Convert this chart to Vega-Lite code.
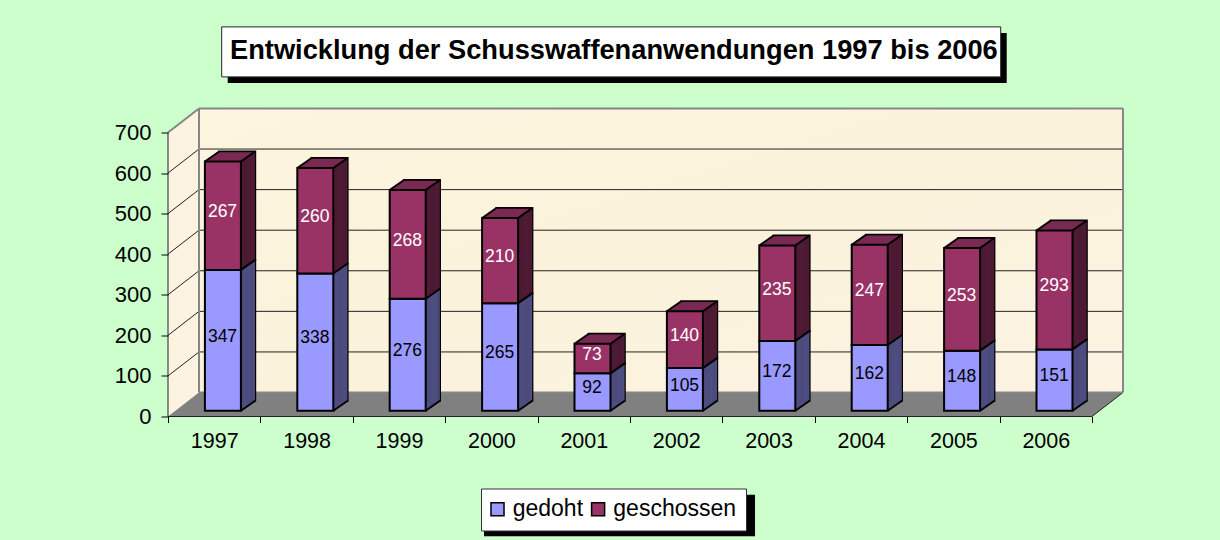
{"$schema":"https://vega.github.io/schema/vega-lite/v6.json","width":955,"height":308,"autosize":{"type":"none"},"padding":{"left":168,"top":108.5,"right":97,"bottom":123.5},"background":"#ccffcc","config":{"view":{"stroke":null},"font":"Liberation Sans","scale":{"continuousPadding":0}},"title":{"text":"Entwicklung der Schusswaffenanwendungen 1997 bis 2006","anchor":"start","frame":"group","offset":0,"dx":62,"dy":38,"fontSize":27.25,"fontWeight":"bold","font":"Liberation Sans","color":"#000000"},"datasets":{"bars":[{"year":1997,"series":"gedoht","value":347},{"year":1997,"series":"geschossen","value":267},{"year":1998,"series":"gedoht","value":338},{"year":1998,"series":"geschossen","value":260},{"year":1999,"series":"gedoht","value":276},{"year":1999,"series":"geschossen","value":268},{"year":2000,"series":"gedoht","value":265},{"year":2000,"series":"geschossen","value":210},{"year":2001,"series":"gedoht","value":92},{"year":2001,"series":"geschossen","value":73},{"year":2002,"series":"gedoht","value":105},{"year":2002,"series":"geschossen","value":140},{"year":2003,"series":"gedoht","value":172},{"year":2003,"series":"geschossen","value":235},{"year":2004,"series":"gedoht","value":162},{"year":2004,"series":"geschossen","value":247},{"year":2005,"series":"gedoht","value":148},{"year":2005,"series":"geschossen","value":253},{"year":2006,"series":"gedoht","value":151},{"year":2006,"series":"geschossen","value":293}]},"layer":[
{"data":{"values":[{"x":1996.8355,"x2":2006.8355,"y":59.1,"y2":759.1}]},"mark":{"type":"rect","color":{"gradient":"linear","x1":0,"y1":0,"x2":1,"y2":1,"stops":[{"offset":0,"color":"#fdf5df"},{"offset":0.5,"color":"#fbf2db"},{"offset":1,"color":"#fdf3e3"}]}},"encoding":{"x":{"field":"x","type":"quantitative","scale":{"domain":[1996.5,2006.8355],"zero":false,"nice":false,"padding":0},"axis":{"values":[1996.5,1997.5,1998.5,1999.5,2000.5,2001.5,2002.5,2003.5,2004.5,2005.5,2006.5],"title":null,"grid":false,"domain":false,"tickSize":6,"tickColor":"#000000","labelExpr":"datum.value<2006 ? format(datum.value+0.5,'d') : ''","labelOffset":46.2,"labelFontSize":21.5,"labelColor":"#000000","labelPadding":8,"labelFlush":false,"labelOverlap":false,"labelBound":false,"zindex":1}},"x2":{"field":"x2"},"y":{"field":"y","type":"quantitative","scale":{"domain":[0,759],"zero":false,"nice":false},"axis":{"values":[0,100,200,300,400,500,600,700],"title":null,"grid":false,"domain":false,"tickSize":7,"tickColor":"#000000","labelFontSize":22,"labelColor":"#000000","labelPadding":10,"zindex":1}},"y2":{"field":"y2"}}},
{"data":{"values":[{"x":1996.5,"y":0,"y2":700},{"x":1996.8355,"y":59.1,"y2":759.1}]},"mark":{"type":"area","color":"#fdf3e1"},"encoding":{"x":{"field":"x","type":"quantitative","title":null},"y":{"field":"y","type":"quantitative","stack":null,"title":null},"y2":{"field":"y2"}}},
{"data":{"values":[{"x":1996.5,"y":0,"y2":0},{"x":1996.8355,"y":0,"y2":59.1},{"x":2006.5,"y":0,"y2":59.1},{"x":2006.8355,"y":59.1,"y2":59.1}]},"mark":{"type":"area","color":"#808080"},"encoding":{"x":{"field":"x","type":"quantitative","title":null},"y":{"field":"y","type":"quantitative","stack":null,"title":null},"y2":{"field":"y2"}}},
{"data":{"values":[{"x":1996.8355,"x2":2006.8355,"y":159.1,"y2":159.1},{"x":1996.8355,"x2":2006.8355,"y":259.1,"y2":259.1},{"x":1996.8355,"x2":2006.8355,"y":359.1,"y2":359.1},{"x":1996.8355,"x2":2006.8355,"y":459.1,"y2":459.1},{"x":1996.8355,"x2":2006.8355,"y":559.1,"y2":559.1},{"x":1996.8355,"x2":2006.8355,"y":659.1,"y2":659.1},{"x":1996.5,"x2":1996.8355,"y":100,"y2":159.1},{"x":1996.5,"x2":1996.8355,"y":200,"y2":259.1},{"x":1996.5,"x2":1996.8355,"y":300,"y2":359.1},{"x":1996.5,"x2":1996.8355,"y":400,"y2":459.1},{"x":1996.5,"x2":1996.8355,"y":500,"y2":559.1},{"x":1996.5,"x2":1996.8355,"y":600,"y2":659.1},{"x":1996.5,"x2":1996.5,"y":0,"y2":700},{"x":1996.5,"x2":2006.5,"y":0,"y2":0},{"x":2006.5,"x2":2006.8355,"y":0,"y2":59.1}]},"mark":{"type":"rule","color":"#222222","strokeWidth":1},"encoding":{"x":{"field":"x","type":"quantitative","title":null},"x2":{"field":"x2"},"y":{"field":"y","type":"quantitative","title":null},"y2":{"field":"y2"}}},
{"data":{"values":[{"x":1996.8355,"x2":2006.8355,"y":759.1,"y2":759.1},{"x":1996.8355,"x2":1996.8355,"y":59.1,"y2":759.1},{"x":2006.8355,"x2":2006.8355,"y":59.1,"y2":759.1},{"x":1996.5,"x2":1996.8355,"y":700,"y2":759.1},{"x":1996.8355,"x2":2006.8355,"y":59.1,"y2":59.1}]},"mark":{"type":"rule","color":"#868686","strokeWidth":2},"encoding":{"x":{"field":"x","type":"quantitative","title":null},"x2":{"field":"x2"},"y":{"field":"y","type":"quantitative","title":null},"y2":{"field":"y2"}}},
{"data":{"values":[{"x":1997.146,"x2":2005.577,"y":945.3,"y2":822.1},{"x":1999.92,"x2":2002.853,"y":-193,"y2":-295}]},"mark":{"type":"rect","color":"#000000","clip":false},"encoding":{"x":{"field":"x","type":"quantitative","title":null},"x2":{"field":"x2"},"y":{"field":"y","type":"quantitative","title":null},"y2":{"field":"y2"}}},
{"data":{"values":[{"x":1997.081,"x2":2005.512,"y":960.1,"y2":836.9}]},"mark":{"type":"rect","color":"#ffffff","stroke":"#222222","strokeWidth":1,"clip":false},"encoding":{"x":{"field":"x","type":"quantitative","title":null},"x2":{"field":"x2"},"y":{"field":"y","type":"quantitative","title":null},"y2":{"field":"y2"}}},
{"data":{"name":"bars"},"transform":[{"stack":"value","groupby":["year"],"sort":[{"field":"series","order":"ascending"}],"as":["v0","v1"]}],"encoding":{"x":{"field":"year","type":"quantitative","title":null},"y":{"field":"v1","type":"quantitative","title":null},"y2":{"field":"v0"}},"layer":[
{"mark":{"type":"bar","orient":"vertical","size":36,"color":"#4d1a33","stroke":"#000000","strokeWidth":2,"xOffset":23,"yOffset":-15.8,"y2Offset":-15.8}},
{"transform":[{"filter":"datum.series=='geschossen'"}],"layer":[
{"mark":{"type":"bar","orient":"vertical","size":36,"color":"#7a2952","xOffset":9.8,"yOffset":-6.57,"y2Offset":-6.57}},
{"mark":{"type":"bar","orient":"vertical","size":36,"color":"#7a2952","xOffset":10.9,"yOffset":-7.34,"y2Offset":-7.34}},
{"mark":{"type":"bar","orient":"vertical","size":36,"color":"#7a2952","xOffset":12,"yOffset":-8.11,"y2Offset":-8.11}},
{"mark":{"type":"bar","orient":"vertical","size":36,"color":"#7a2952","xOffset":13.1,"yOffset":-8.88,"y2Offset":-8.88}},
{"mark":{"type":"bar","orient":"vertical","size":36,"color":"#7a2952","xOffset":14.2,"yOffset":-9.65,"y2Offset":-9.65}},
{"mark":{"type":"bar","orient":"vertical","size":36,"color":"#7a2952","xOffset":15.3,"yOffset":-10.42,"y2Offset":-10.42}},
{"mark":{"type":"bar","orient":"vertical","size":36,"color":"#7a2952","xOffset":16.4,"yOffset":-11.19,"y2Offset":-11.19}},
{"mark":{"type":"bar","orient":"vertical","size":36,"color":"#7a2952","xOffset":17.5,"yOffset":-11.96,"y2Offset":-11.96}},
{"mark":{"type":"bar","orient":"vertical","size":36,"color":"#7a2952","xOffset":18.6,"yOffset":-12.73,"y2Offset":-12.73}},
{"mark":{"type":"bar","orient":"vertical","size":36,"color":"#7a2952","xOffset":19.7,"yOffset":-13.5,"y2Offset":-13.5}},
{"mark":{"type":"bar","orient":"vertical","size":36,"color":"#7a2952","xOffset":20.8,"yOffset":-14.27,"y2Offset":-14.27}},
{"mark":{"type":"bar","orient":"vertical","size":36,"color":"#7a2952","xOffset":21.9,"yOffset":-15.04,"y2Offset":-15.04}}
]},
{"encoding":{"color":{"condition":{"test":"datum.series=='gedoht'","value":"#4d4d80"},"value":"#4d1a33"}},"layer":[
{"mark":{"type":"bar","orient":"vertical","size":1.6,"xOffset":26.8,"yOffset":-6.57,"y2Offset":-6.57}},
{"mark":{"type":"bar","orient":"vertical","size":1.6,"xOffset":27.9,"yOffset":-7.34,"y2Offset":-7.34}},
{"mark":{"type":"bar","orient":"vertical","size":1.6,"xOffset":29,"yOffset":-8.11,"y2Offset":-8.11}},
{"mark":{"type":"bar","orient":"vertical","size":1.6,"xOffset":30.1,"yOffset":-8.88,"y2Offset":-8.88}},
{"mark":{"type":"bar","orient":"vertical","size":1.6,"xOffset":31.2,"yOffset":-9.65,"y2Offset":-9.65}},
{"mark":{"type":"bar","orient":"vertical","size":1.6,"xOffset":32.3,"yOffset":-10.42,"y2Offset":-10.42}},
{"mark":{"type":"bar","orient":"vertical","size":1.6,"xOffset":33.4,"yOffset":-11.19,"y2Offset":-11.19}},
{"mark":{"type":"bar","orient":"vertical","size":1.6,"xOffset":34.5,"yOffset":-11.96,"y2Offset":-11.96}},
{"mark":{"type":"bar","orient":"vertical","size":1.6,"xOffset":35.6,"yOffset":-12.73,"y2Offset":-12.73}},
{"mark":{"type":"bar","orient":"vertical","size":1.6,"xOffset":36.7,"yOffset":-13.5,"y2Offset":-13.5}},
{"mark":{"type":"bar","orient":"vertical","size":1.6,"xOffset":37.8,"yOffset":-14.27,"y2Offset":-14.27}},
{"mark":{"type":"bar","orient":"vertical","size":1.6,"xOffset":38.9,"yOffset":-15.04,"y2Offset":-15.04}},
{"mark":{"type":"bar","orient":"vertical","size":1.6,"xOffset":40,"yOffset":-15.81,"y2Offset":-15.81}}
]},
{"mark":{"type":"rule","color":"#000000","strokeWidth":2,"xOffset":26.7,"x2Offset":41,"yOffset":-5.8,"y2Offset":-15.8},"encoding":{"x":{"field":"year","type":"quantitative","title":null},"x2":{"field":"year"},"y":{"field":"v1","type":"quantitative","title":null},"y2":{"field":"v1"}}},
{"mark":{"type":"rule","color":"#000000","strokeWidth":2,"xOffset":26.7,"x2Offset":41,"yOffset":-5.8,"y2Offset":-15.8},"transform":[{"filter":"datum.series=='gedoht'"}],"encoding":{"x":{"field":"year","type":"quantitative","title":null},"x2":{"field":"year"},"y":{"field":"v0","type":"quantitative","title":null},"y2":{"field":"v0"}}},
{"mark":{"type":"rule","color":"#000000","strokeWidth":2,"xOffset":-9.3,"x2Offset":5,"yOffset":-5.8,"y2Offset":-15.8},"transform":[{"filter":"datum.series=='geschossen'"}],"encoding":{"x":{"field":"year","type":"quantitative","title":null},"x2":{"field":"year"},"y":{"field":"v1","type":"quantitative","title":null},"y2":{"field":"v1"}}},
{"mark":{"type":"bar","orient":"vertical","size":36,"stroke":"#000000","strokeWidth":2,"xOffset":8.7,"yOffset":-5.8,"y2Offset":-5.8},"encoding":{"color":{"field":"series","type":"nominal","scale":{"domain":["gedoht","geschossen"],"range":["#9999ff","#993366"]},"legend":{"orient":"none","legendX":313,"legendY":380,"direction":"horizontal","title":null,"fillColor":"#ffffff","strokeColor":"#333333","padding":9,"labelFontSize":23,"labelColor":"#000000","symbolType":"square","symbolSize":170,"symbolStrokeColor":"#000000","symbolStrokeWidth":1.5,"symbolOffset":-4,"columns":2,"columnPadding":3.6,"labelOffset":3.7}}}},
{"mark":{"type":"text","fontSize":17.5,"baseline":"middle","align":"center","xOffset":8.3},"encoding":{"text":{"field":"value","type":"quantitative"},"y":{"field":"v1","type":"quantitative","title":null},"y2":null,"yOffset":{"value":{"expr":"datum.value*0.203-9.5"}},"color":{"condition":{"test":"datum.series=='gedoht'","value":"#000000"},"value":"#ffffff"}}}
]}
]}
